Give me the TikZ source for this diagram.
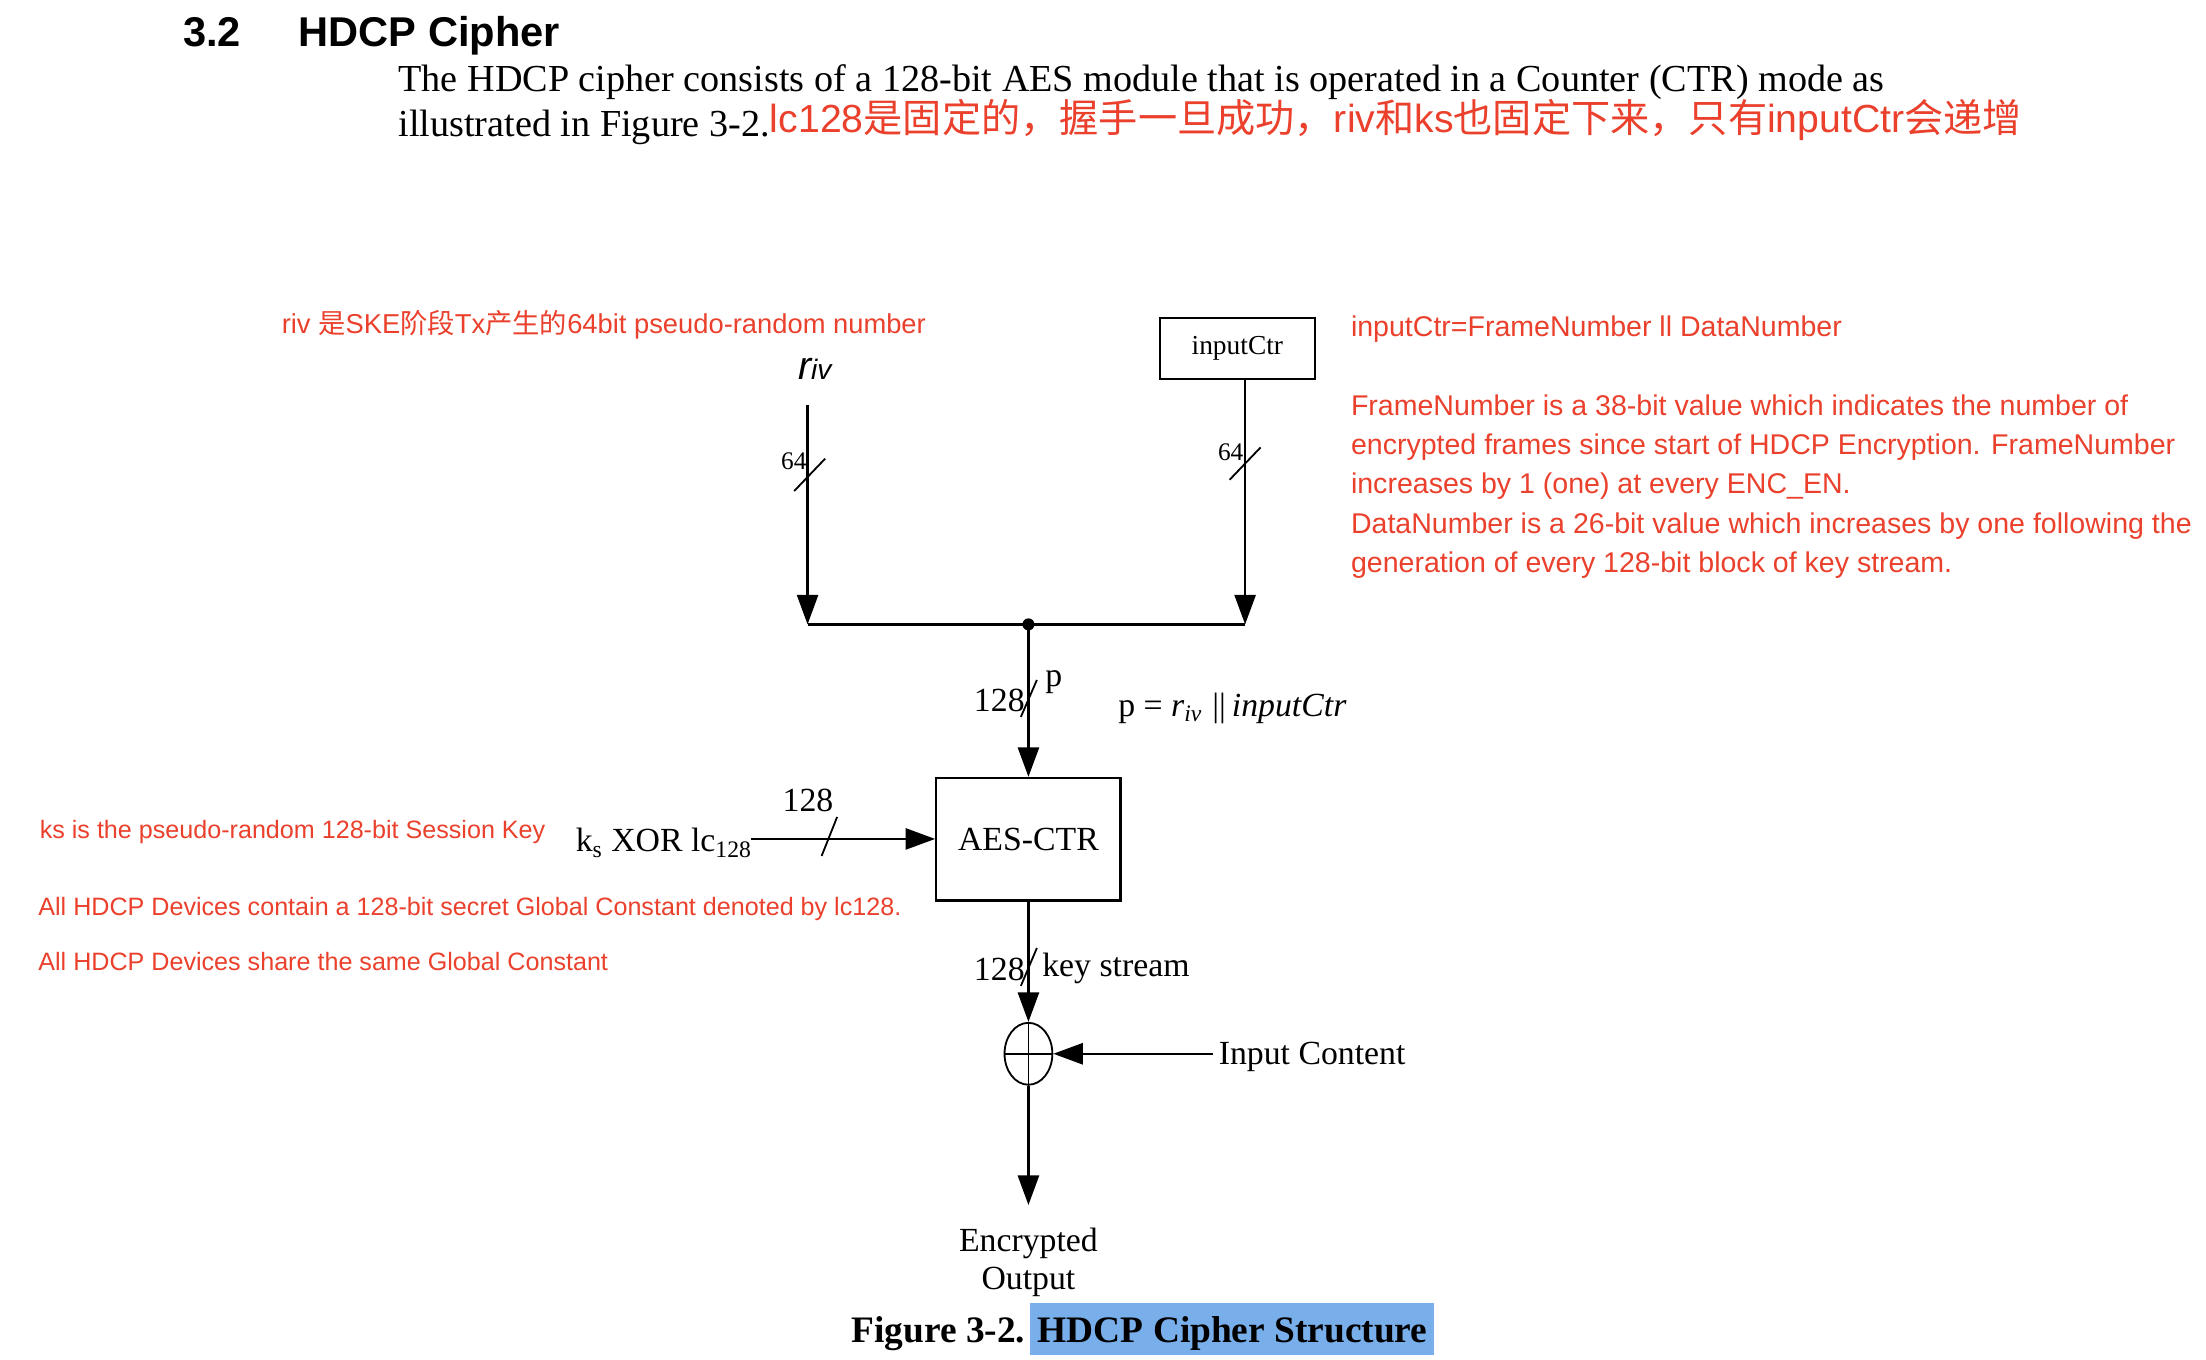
\documentclass[tikz,border=0pt]{standalone}
\usepackage{fontspec}
\setmainfont{Liberation Serif}
\setsansfont{Liberation Sans}
\newfontfamily\cjkfont{Noto Sans CJK SC}
\usetikzlibrary{arrows.meta,shapes.geometric}
\definecolor{annot}{RGB}{234,64,44}
\definecolor{hilite}{RGB}{120,174,234}
\newcommand\zh[1]{{\cjkfont #1}}
\tikzset{
  annR/.style={text=annot, font=\sffamily\fontsize{14.2}{17}\selectfont, inner sep=0, anchor=base west},
  annL/.style={text=annot, font=\sffamily\fontsize{12.5}{15}\selectfont, inner sep=0, anchor=base west},
  lbl/.style={font=\fontsize{16.8}{18.9}\selectfont, inner sep=0},
  smalllbl/.style={font=\fontsize{12.6}{14}\selectfont, inner sep=0, anchor=base west},
  wire/.style={line width=1.15pt},
  arr/.style={wire, -{Triangle[length=14.7pt,width=10.5pt]}},
  slash/.style={line width=0.9pt},
  blk/.style={draw, line width=1.15pt, inner sep=0},
  head/.style={font=\sffamily\bfseries\fontsize{20.7}{24}\selectfont, inner sep=0, anchor=base west},
  body/.style={font=\fontsize{19}{21}\selectfont, inner sep=0, anchor=base west}
}
\begin{document}
\begin{tikzpicture}[x=0.7pt,y=-0.7pt]
\useasboundingbox (0,0) rectangle (1568,966.6);
\fill[white] (0,0) rectangle (1568,966.6);

% heading and paragraph
\node[head] (secnum) at (130,33) {3.2};
\node[head] (sectitle) at (212,33) {HDCP Cipher};
\node[body] (para1) at (283,65) {The HDCP cipher consists of a 128-bit AES module that is operated in a Counter (CTR) mode as};
\node[body] (para2) at (283,97) {illustrated in Figure 3-2.};
\node[text=annot, font=\sffamily\fontsize{19.5}{22}\selectfont, inner sep=0, anchor=base west] (note0) at (547,94)
  {lc128\zh{是固定的，握手一旦成功，}riv\zh{和}ks\zh{也固定下来，只有}inputCtr\zh{会递增}};

% annotations
\node[text=annot, font=\sffamily\fontsize{13.6}{16}\selectfont, inner sep=0, anchor=base west] (noteriv) at (200,237)
  {riv \zh{是}SKE\zh{阶段}Tx\zh{产生的}64bit pseudo-random number};
\node[annR] (n1) at (960,239) {inputCtr=FrameNumber ll DataNumber};
\node[annR] (n2) at (960,295) {FrameNumber is a 38-bit value which indicates the number of};
\node[annR] (n3) at (960,323) {encrypted frames since start of HDCP Encryption. FrameNumber};
\node[annR] (n4) at (960,351) {increases by 1 (one) at every ENC\_EN.};
\node[annR] (n5) at (960,379) {DataNumber is a 26-bit value which increases by one following the};
\node[annR] (n6) at (960,407) {generation of every 128-bit block of key stream.};
\node[annL] (nks) at (28,596) {ks is the pseudo-random 128-bit Session Key};
\node[annL] (nlc) at (27,651) {All HDCP Devices contain a 128-bit secret Global Constant denoted by lc128.};
\node[annL] (nsh) at (27,690) {All HDCP Devices share the same Global Constant};

% inputs
\node[inner sep=0, anchor=base west, font=\sffamily\itshape\fontsize{19.6}{22}\selectfont] (riv) at (567,270)
  {r{\fontsize{14}{16}\selectfont iv}};
\node[blk, minimum width=77pt, minimum height=30.4pt, font=\fontsize{13.65}{15}\selectfont] (ctr) at (879.5,247.7) {inputCtr};

\coordinate (rivtop) at (574,288);
\coordinate (jl) at (574,443.8);
\coordinate (jr) at (885,443.8);
\coordinate (jc) at (731,443.8);
\draw[arr] (rivtop) -- (jl);
\draw[arr] (jr |- ctr.south) -- (jr);
\draw[wire] (jl) -- (jr);
\fill (jc) circle[radius=3pt];

\node[smalllbl] (w64l) at (555,334) {64};
\node[smalllbl] (w64r) at (865.5,327) {64};
\draw[slash] (564.5,349) -- (586.5,326);
\draw[slash] (874,341) -- (896,318);

% AES block
\node[blk, minimum width=91.7pt, minimum height=60.9pt, font=\fontsize{16.8}{19}\selectfont] (aes) at (731,596.5) {AES-CTR};
\draw[arr] (jc) -- (aes.north);
\node[lbl, anchor=base west] (w128p) at (692,505.5) {128};
\node[lbl, anchor=base west] (plbl) at (742.7,488) {p};
\draw[slash] (725.6,509.6) -- (737,483.3);
\node[lbl, anchor=base west] (peq) at (794.6,509) {p = {\itshape r}\textsubscript{\itshape iv}\hspace{5pt}||\hspace{3pt}{\itshape inputCtr}};

\node[lbl, anchor=base west] (ks) at (409,605.5) {k\textsubscript{s} XOR lc\textsubscript{128}};
\coordinate (kin) at (534,596.3);
\draw[arr] (kin) -- (kin -| aes.west);
\node[lbl, anchor=base west] (w128k) at (556,576.5) {128};
\draw[slash] (584,608.4) -- (595,580.7);

% XOR
\node[draw, ellipse, line width=0.9pt, minimum width=23.8pt, minimum height=30.8pt, inner sep=0] (xor) at (731,749) {};
\draw[line width=0.8pt] (xor.north) -- (xor.south) (xor.west) -- (xor.east);
\draw[arr] (aes.south) -- (xor.north);
\node[lbl, anchor=base west] (w128s) at (692,696.6) {128};
\draw[slash] (725.6,700.8) -- (737,673.8);
\node[lbl, anchor=base west] (kslbl) at (740.6,694) {key stream};
\node[lbl, anchor=west, inner xsep=2.8pt] (inc) at (862,751) {Input Content};
\draw[arr] (inc.west |- xor.east) -- (xor.east);
\node[lbl, align=center, anchor=north, outer ysep=11.55pt] (out) at (731,856.5) {Encrypted\\Output};
\draw[arr] (xor.south) -- (out.north);

% caption
\fill[hilite] (732,926) rectangle (1019,963);
\node[font=\bfseries\fontsize{18.6}{21}\selectfont, inner sep=0, anchor=base west] (cap) at (605,954.5) {Figure 3-2. HDCP Cipher Structure};
\end{tikzpicture}
\end{document}
